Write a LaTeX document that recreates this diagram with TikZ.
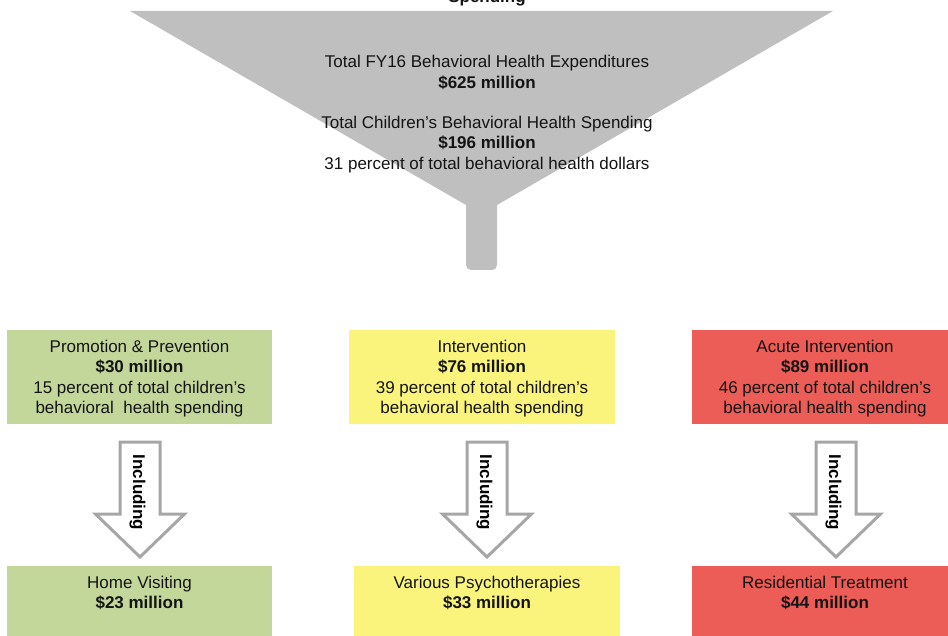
\documentclass[tikz,border=0pt]{standalone}
\usepackage{fontspec}
\setmainfont{Liberation Sans}
\definecolor{fgray}{RGB}{191,191,191}
\definecolor{bgreen}{RGB}{196,215,155}
\definecolor{byellow}{RGB}{250,244,124}
\definecolor{bred}{RGB}{236,93,87}
\definecolor{agray}{RGB}{166,166,166}
\definecolor{tx}{RGB}{20,20,20}
\begin{document}
\begin{tikzpicture}[x=1pt,y=-1pt,
  txt/.style={font=\fontsize{17}{20.5}\selectfont, text=tx, align=center, inner sep=0pt},
  blockarrow/.style={draw=agray, line width=3pt, fill=white, line join=miter},
  incl/.style={font=\fontsize{17}{20}\selectfont\bfseries, rotate=-90, inner sep=0pt}]
\useasboundingbox (0,0) rectangle (948,636);
\clip (0,0) rectangle (948,636);
% funnel
\fill[fgray] (130,11) -- (833,11) -- (497,205) -- (497,265)
  arc[start angle=0,end angle=-90,radius=5pt] -- (471,270)
  arc[start angle=-90,end angle=-180,radius=5pt] -- (466,205) -- cycle;
\node[txt, font=\fontsize{17}{20}\selectfont\bfseries] (title) at (487,-2) {Spending};
\node[txt] (fy) at (487,72.5) {Total FY16 Behavioral Health Expenditures\\\textbf{\$625 million}};
\node[txt] (ch) at (487,144.5) {Total Children's Behavioral Health Spending\\\textbf{\$196 million}\\31 percent of total behavioral health dollars};
% top boxes
\fill[bgreen] (7,330) rectangle (272,424);
\fill[byellow] (349,330) rectangle (615,424);
\fill[bred] (692,330) rectangle (960,424);
\node[txt] (pp) at (139.5,378.5) {Promotion \& Prevention\\\textbf{\$30 million}\\15 percent of total children’s\\behavioral\ \ health spending};
\node[txt] (iv) at (482,378.5) {Intervention\\\textbf{\$76 million}\\39 percent of total children’s\\behavioral health spending};
\node[txt] (ai) at (825,378.5) {Acute Intervention\\\textbf{\$89 million}\\46 percent of total children’s\\behavioral health spending};
% bottom boxes
\fill[bgreen] (7,566) rectangle (272,646);
\fill[byellow] (354,566) rectangle (620,646);
\fill[bred] (692,566) rectangle (960,646);
\node[txt] (hv) at (139.5,593) {Home Visiting\\\textbf{\$23 million}};
\node[txt] (vp) at (487,593) {Various Psychotherapies\\\textbf{\$33 million}};
\node[txt] (rt) at (825,593) {Residential Treatment\\\textbf{\$44 million}};
% block arrows
\foreach \cx/\nm in {140/a1,487/a2,836/a3}{
  \draw[blockarrow] (\cx-20,442) -- (\cx+20,442) -- (\cx+20,514) -- (\cx+44.5,514)
    -- (\cx,557) -- (\cx-44.5,514) -- (\cx-20,514) -- cycle;
  \node[incl] (\nm) at (\cx-2.5,492.5) {Including};
}
\end{tikzpicture}
\end{document}
